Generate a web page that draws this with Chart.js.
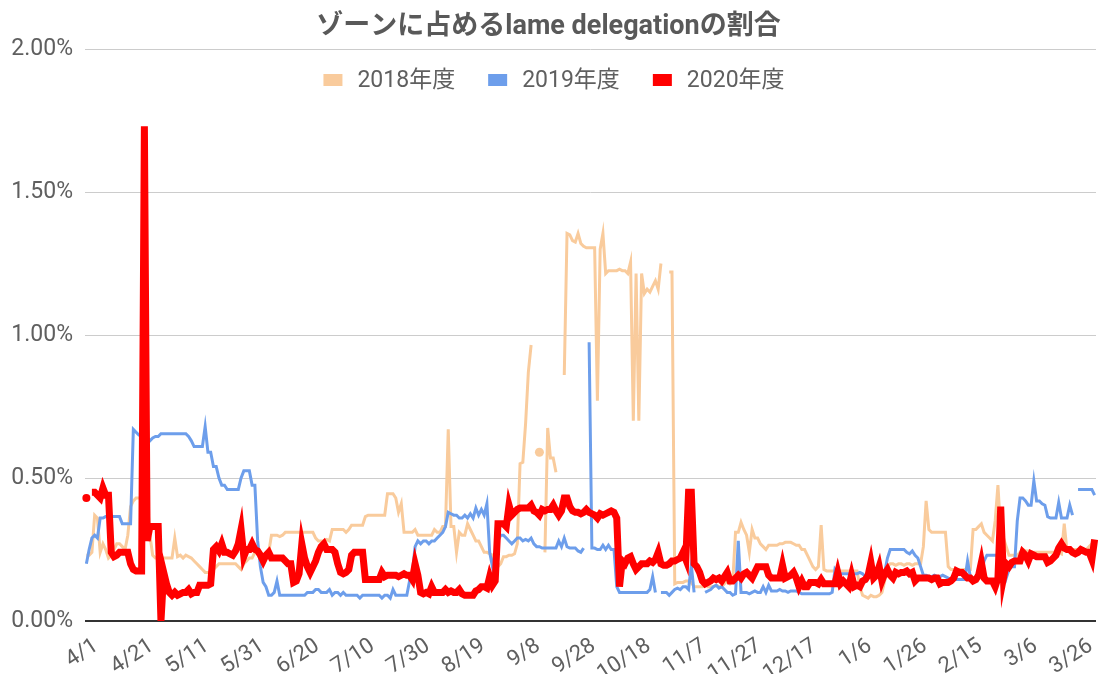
<!DOCTYPE html>
<html lang="ja">
<head>
<meta charset="utf-8">
<title>ゾーンに占めるlame delegationの割合</title>
<script src="https://cdn.jsdelivr.net/npm/chart.js@4.4.1/dist/chart.umd.min.js"></script>
<style>
  html, body { margin: 0; padding: 0; background: #ffffff; }
  #wrap { width: 1100px; height: 674px; position: relative; }
  canvas { display: block; }
</style>
</head>
<body>
<div id="wrap"><canvas id="c" width="1100" height="674"></canvas></div>
<script>
// ---------- DATA ----------
const TITLE = 'ゾーンに占めるlame delegationの割合';
const SERIES_NAMES = ['2018年度', '2019年度', '2020年度'];
// fiscal year months (April .. March) and their lengths (axis year contains Feb 29)
const MONTHS = [4, 5, 6, 7, 8, 9, 10, 11, 12, 1, 2, 3];
const MONTH_DAYS = [30, 31, 30, 31, 31, 30, 31, 30, 31, 31, 29, 31];
const TICK_EVERY = 20; // x labels shown: 4/1, 4/21, 5/11 ...
const Y_TICKS = [0, 0.5, 1.0, 1.5, 2.0]; // percent

// percent values, one per day from 4/1
const FY2018 = [
 0.23,0.23,0.24,0.37,0.36,0.24,0.27,0.25,0.22,0.23,
 0.25,0.27,0.27,0.26,0.25,0.30,0.40,0.42,0.43,0.43,
 0.43,0.43,0.43,0.30,0.23,0.22,0.22,0.22,0.22,0.22,
 0.22,0.22,0.29,0.225,0.23,0.22,0.23,0.225,0.22,0.21,
 0.20,0.19,0.18,0.17,0.17,0.17,0.18,0.19,0.20,0.20,
 0.20,0.20,0.20,0.20,0.20,0.19,0.18,0.20,0.21,0.22,
 0.22,0.24,0.24,0.24,0.23,0.23,0.24,0.30,0.30,0.30,
 0.295,0.30,0.31,0.31,0.31,0.31,0.31,0.31,0.31,0.31,
 0.31,0.31,0.31,0.29,0.28,0.28,0.28,0.285,0.28,0.32,
 0.32,0.32,0.32,0.32,0.31,0.32,0.335,0.335,0.335,0.335,
 0.335,0.365,0.37,0.37,0.37,0.37,0.37,0.37,0.37,0.445,
 0.445,0.445,0.43,0.38,0.41,0.31,0.31,0.31,0.31,0.32,
 0.30,0.30,0.30,0.30,0.30,0.30,0.32,0.31,0.31,0.33,
 0.33,0.67,0.33,0.33,0.24,0.31,0.30,0.30,0.34,0.32,
 0.30,0.28,0.28,0.26,0.24,0.24,0.235,0.23,0.21,0.19,
 0.20,0.225,0.225,0.23,0.23,0.235,0.27,0.55,0.555,0.69,
 0.87,0.965,null,null,0.59,null,0.24,0.675,0.57,0.57,
 0.52,null,null,0.86,1.355,1.35,1.33,1.325,1.355,1.32,
 1.31,1.305,1.305,1.305,1.305,0.77,1.30,1.355,1.215,1.225,
 1.225,1.225,1.225,1.23,1.225,1.225,1.215,1.255,0.70,1.215,
 0.70,1.215,1.145,1.16,1.15,1.17,1.19,1.16,1.25,null,
 null,1.22,1.22,0.13,0.135,0.135,0.135,0.14,0.14,0.135,
 0.12,0.12,0.12,0.12,0.13,0.12,0.12,0.12,0.125,0.12,
 0.12,0.13,0.14,0.13,0.14,0.31,0.31,0.345,0.32,0.30,
 0.24,0.32,0.29,0.29,0.27,0.26,0.25,0.265,0.265,0.265,
 0.265,0.27,0.27,0.275,0.275,0.275,0.27,0.265,0.265,0.25,
 0.25,0.23,0.21,0.19,0.18,0.19,0.335,0.18,0.175,0.175,
 0.175,0.175,0.175,0.175,0.175,0.175,0.175,0.175,0.175,0.175,
 0.12,0.09,0.085,0.08,0.09,0.085,0.085,0.09,0.10,0.14,
 0.19,0.20,0.20,0.195,0.20,0.20,0.195,0.20,0.20,0.195,
 0.20,0.20,0.20,0.26,0.42,0.32,0.31,0.31,0.31,0.31,
 0.31,0.31,0.19,0.18,0.18,0.18,0.18,0.18,0.18,0.18,
 0.18,0.32,0.32,0.33,0.34,0.31,0.30,0.29,0.28,0.35,
 0.475,0.31,0.29,0.26,0.23,0.23,0.23,0.23,0.24,0.25,
 0.245,0.245,0.24,0.24,0.24,0.24,0.24,0.24,0.24,0.24,
 0.24,0.24,0.24,0.235,0.34,0.245,0.25,0.25,0.25,0.25,
 0.25,0.25,0.25,0.26,0.27,0.28
];
const FY2019 = [
 0.20,0.25,0.29,0.30,0.29,0.36,0.36,0.365,0.365,0.365,
 0.365,0.365,0.365,0.34,0.34,0.34,0.34,0.67,0.66,0.65,
 0.65,0.64,0.64,0.63,0.64,0.645,0.645,0.655,0.655,0.655,
 0.655,0.655,0.655,0.655,0.655,0.655,0.655,0.645,0.63,0.61,
 0.61,0.61,0.61,0.68,0.59,0.59,0.54,0.54,0.50,0.475,
 0.475,0.46,0.46,0.46,0.46,0.46,0.50,0.525,0.525,0.525,
 0.475,0.475,0.28,0.19,0.135,0.12,0.09,0.09,0.10,0.14,
 0.09,0.09,0.09,0.09,0.09,0.09,0.09,0.09,0.09,0.09,
 0.10,0.10,0.10,0.11,0.11,0.10,0.10,0.10,0.11,0.09,
 0.10,0.10,0.09,0.10,0.09,0.09,0.09,0.09,0.09,0.08,
 0.09,0.09,0.09,0.09,0.09,0.09,0.09,0.08,0.09,0.09,
 0.08,0.11,0.09,0.09,0.09,0.09,0.09,0.14,0.17,0.26,
 0.28,0.27,0.28,0.28,0.27,0.28,0.28,0.29,0.30,0.31,
 0.33,0.38,0.375,0.37,0.37,0.36,0.36,0.37,0.36,0.375,
 0.36,0.395,0.37,0.39,0.37,0.41,0.24,0.19,0.24,0.28,
 0.30,0.30,0.29,0.28,0.27,0.28,0.29,0.29,0.28,0.285,
 0.28,0.29,0.27,0.26,0.26,0.255,0.255,0.255,0.255,0.255,
 0.255,0.28,0.26,0.29,0.26,0.255,0.255,0.255,0.245,0.24,
 0.255,null,0.975,0.255,0.255,0.25,0.25,0.265,0.25,0.265,
 0.25,0.25,0.12,0.10,0.10,0.10,0.10,0.10,0.10,0.10,
 0.10,0.10,0.10,0.10,0.11,0.155,0.10,null,0.10,0.10,
 0.10,0.09,0.10,0.11,0.115,0.11,0.12,0.12,0.11,0.195,
 0.10,null,null,null,0.10,0.105,0.11,0.12,0.125,0.115,
 0.12,0.11,0.10,0.10,0.09,0.095,0.28,0.10,0.10,0.10,
 0.095,0.10,0.105,0.10,0.10,0.12,0.10,0.125,0.105,0.105,
 0.105,0.11,0.105,0.105,0.10,0.105,0.105,0.105,0.10,0.095,
 0.095,0.095,0.095,0.095,0.095,0.095,0.095,0.095,0.095,0.095,
 0.10,0.18,0.165,0.165,0.165,0.165,0.165,0.165,0.165,0.165,
 0.17,0.165,0.155,0.16,0.16,0.16,0.16,0.16,0.16,0.17,
 0.22,0.25,0.25,0.25,0.25,0.25,0.25,0.24,0.235,0.245,
 0.23,0.22,0.19,0.16,0.16,0.155,0.155,0.16,0.155,0.155,
 0.16,0.155,0.15,0.145,0.145,0.145,0.145,0.145,0.145,0.21,
 0.155,0.15,0.145,0.15,0.17,0.21,0.23,0.23,0.23,0.23,
 0.23,0.22,0.19,0.15,0.18,0.19,0.19,0.35,0.43,0.43,
 0.42,0.405,0.405,0.49,0.42,0.42,0.41,0.405,0.365,0.36,
 0.36,0.36,0.415,0.36,0.36,0.36,0.405,0.37,null,0.46,
 0.46,0.46,0.46,0.46,0.46,0.44
];
const FY2020 = [
 0.43,null,0.45,0.45,0.44,0.43,0.465,0.44,0.44,0.24,
 0.225,0.23,0.24,0.24,0.24,0.24,0.20,0.18,0.175,0.175,
 0.175,1.73,0.28,0.33,0.33,0.33,0.33,0.00,0.17,0.13,
 0.10,0.09,0.10,0.09,0.095,0.10,0.10,0.11,0.095,0.10,
 0.10,0.125,0.125,0.125,0.125,0.13,0.25,0.26,0.245,0.27,
 0.24,0.24,0.235,0.23,0.245,0.27,0.32,0.225,0.25,0.25,
 0.27,0.25,0.245,0.23,0.21,0.23,0.24,0.22,0.22,0.22,
 0.22,0.22,0.21,0.20,0.20,0.135,0.14,0.165,0.27,0.22,
 0.19,0.17,0.19,0.21,0.24,0.26,0.27,0.25,0.25,0.25,
 0.24,0.20,0.17,0.165,0.17,0.18,0.23,0.24,0.24,0.24,
 0.24,0.145,0.145,0.145,0.145,0.145,0.145,0.17,0.155,0.16,
 0.16,0.16,0.16,0.155,0.16,0.165,0.16,0.16,0.145,0.20,
 0.16,0.10,0.095,0.10,0.095,0.12,0.10,0.10,0.10,0.10,
 0.11,0.10,0.105,0.10,0.10,0.11,0.095,0.09,0.09,0.09,
 0.09,0.105,0.11,0.12,0.12,0.115,0.155,0.125,0.14,0.34,
 0.34,0.34,0.33,0.405,0.37,0.38,0.39,0.395,0.395,0.395,
 0.395,0.405,0.385,0.38,0.37,0.39,0.385,0.39,0.39,0.405,
 0.385,0.37,0.385,0.43,0.43,0.40,0.385,0.38,0.38,0.375,
 0.38,0.39,0.38,0.375,0.37,0.36,0.375,0.37,0.375,0.38,
 0.385,0.38,0.36,0.12,0.21,0.20,0.22,0.225,0.20,0.18,
 0.19,0.20,0.20,0.20,0.21,0.205,0.215,0.24,0.20,0.195,
 0.195,0.20,0.21,0.21,0.215,0.22,0.24,0.215,0.45,0.45,
 0.20,0.19,0.17,0.14,0.13,0.135,0.14,0.15,0.145,0.15,
 0.14,0.155,0.17,0.14,0.14,0.15,0.16,0.15,0.165,0.17,
 0.16,0.15,0.17,0.19,0.19,0.19,0.19,0.16,0.15,0.15,
 0.15,0.15,0.195,0.15,0.155,0.16,0.17,0.15,0.12,0.14,
 0.12,0.12,0.135,0.135,0.135,0.13,0.145,0.13,0.13,0.13,
 0.13,0.13,0.17,0.13,0.14,0.13,0.12,0.16,0.12,0.125,
 0.12,0.14,0.145,0.16,0.205,0.15,0.16,0.19,0.14,0.165,
 0.18,0.16,0.15,0.17,0.165,0.17,0.17,0.175,0.165,0.17,
 0.14,0.15,0.15,0.15,0.15,0.15,0.145,0.15,0.15,0.13,
 0.135,0.135,0.135,0.14,0.15,0.175,0.17,0.17,0.16,0.15,
 0.15,0.14,0.145,0.16,0.205,0.15,0.14,0.14,0.14,0.12,
 0.15,0.40,0.15,0.20,0.19,0.205,0.21,0.21,0.21,0.24,
 0.23,0.21,0.235,0.23,0.225,0.225,0.225,0.225,0.205,0.21,
 0.22,0.23,0.255,0.27,0.255,0.25,0.25,0.24,0.235,0.24,
 0.25,0.245,0.24,0.24,0.215,0.285
];

// ---------- CATEGORIES ----------
const labels = [];
MONTHS.forEach((m, i) => {
  for (let d = 1; d <= MONTH_DAYS[i]; d++) labels.push(m + '/' + d);
});

// ---------- STYLE ----------
const FONT = 'Roboto, "Noto Sans CJK JP", sans-serif';
const TEXT_COLOR = '#5f5f5f';
const COLORS = ['#f9cb9c', '#6d9eeb', '#ff0000'];
const WIDTHS = [3, 3, 7];
const DOT_R = [4.5, 4, 4];

function isolated(data, i) {
  if (data[i] === null || data[i] === undefined) return false;
  const p = i > 0 ? data[i - 1] : null;
  const n = i < data.length - 1 ? data[i + 1] : null;
  return (p === null || p === undefined) && (n === null || n === undefined);
}

const seriesData = [FY2018, FY2019, FY2020];
const datasets = seriesData.map((arr, k) => ({
  label: SERIES_NAMES[k],
  data: arr,
  borderColor: COLORS[k],
  backgroundColor: COLORS[k],
  borderWidth: WIDTHS[k],
  pointRadius: (c) => isolated(c.dataset.data, c.dataIndex) ? DOT_R[k] : 0,
  pointHoverRadius: 0,
  pointBorderWidth: 0,
  pointBackgroundColor: COLORS[k],
  tension: 0,
  spanGaps: false,
  order: 3 - k
}));

// custom legend drawn inside the plot, like the reference
const insideLegend = {
  id: 'insideLegend',
  afterDraw(chart) {
    const ctx = chart.ctx;
    ctx.save();
    ctx.font = '23px ' + FONT;
    ctx.textBaseline = 'middle';
    const sw = 19, sh = 12, gapText = 15, gapItem = 33, cy = 80;
    const widths = SERIES_NAMES.map(t => sw + gapText + ctx.measureText(t).width);
    const total = widths.reduce((a, b) => a + b, 0) + gapItem * (widths.length - 1);
    let x = 554 - total / 2;
    SERIES_NAMES.forEach((t, k) => {
      ctx.fillStyle = COLORS[k];
      ctx.fillRect(x, cy - sh / 2, sw, sh);
      ctx.fillStyle = TEXT_COLOR;
      ctx.textAlign = 'left';
      ctx.fillText(t, x + sw + gapText, cy + 1);
      x += widths[k] + gapItem;
    });
    ctx.restore();
  }
};

new Chart(document.getElementById('c'), {
  type: 'line',
  data: { labels: labels, datasets: datasets },
  plugins: [insideLegend],
  options: {
    responsive: false,
    animation: false,
    events: [],
    layout: { padding: { left: 0, right: 3, top: 0, bottom: 0 } },
    plugins: {
      legend: { display: false },
      tooltip: { enabled: false },
      title: {
        display: true,
        text: TITLE,
        color: '#595959',
        font: { family: FONT, size: 27, weight: 'bold', lineHeight: 1.2 },
        padding: { top: 11, bottom: 5.6 }
      }
    },
    scales: {
      x: {
        type: 'category',
        offset: true,
        grid: { display: false },
        border: { display: false },
        afterFit(s) { s.height = 53; },
        ticks: {
          autoSkip: false,
          maxRotation: 33,
          minRotation: 33,
          padding: 4,
          labelOffset: 10,
          color: TEXT_COLOR,
          font: { family: FONT, size: 22 },
          callback: function (v, i) { return i % TICK_EVERY === 0 ? labels[i] : null; }
        }
      },
      y: {
        min: Y_TICKS[0],
        max: Y_TICKS[Y_TICKS.length - 1],
        afterFit(s) { s.width = 85; },
        afterBuildTicks(s) { s.ticks = Y_TICKS.map(v => ({ value: v })); },
        border: { display: false },
        grid: {
          drawTicks: false,
          color: (c) => c.tick && c.tick.value === 0 ? '#333333' : '#cccccc',
          lineWidth: (c) => c.tick && c.tick.value === 0 ? 2 : 1
        },
        ticks: {
          padding: 12,
          color: TEXT_COLOR,
          font: { family: FONT, size: 23 },
          callback: (v) => Number(v).toFixed(2) + '%'
        }
      }
    }
  }
});
</script>
</body>
</html>
